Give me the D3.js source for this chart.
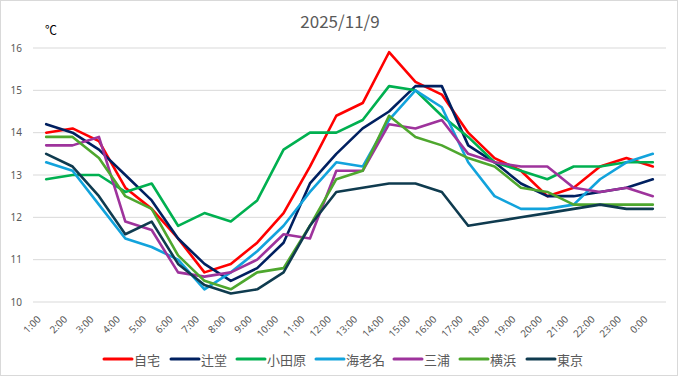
<!DOCTYPE html>
<html><head><meta charset="utf-8">
<script src="https://cdn.jsdelivr.net/npm/d3@7"></script>
<style>
html,body{margin:0;padding:0;background:#fff;}
svg{display:block;}
</style></head>
<body><svg id="c" width="681" height="379"></svg>
<script>
const hours = ["1:00","2:00","3:00","4:00","5:00","6:00","7:00","8:00","9:00","10:00","11:00","12:00","13:00","14:00","15:00","16:00","17:00","18:00","19:00","20:00","21:00","22:00","23:00","0:00"];
const seriesNames = ["自宅","辻堂","小田原","海老名","三浦","横浜","東京"];
const jitaku   = [14.0,14.1,13.8,12.7,12.2,11.5,10.7,10.9,11.4,12.1,13.2,14.4,14.7,15.9,15.2,14.9,14.0,13.4,13.1,12.5,12.7,13.2,13.4,13.2];
const tsujido  = [14.2,14.0,13.6,13.0,12.4,11.5,10.9,10.5,10.8,11.4,12.8,13.5,14.1,14.5,15.1,15.1,13.7,13.3,12.8,12.5,12.5,12.6,12.7,12.9];
const odawara  = [12.9,13.0,13.0,12.6,12.8,11.8,12.1,11.9,12.4,13.6,14.0,14.0,14.3,15.1,15.0,14.4,13.9,13.3,13.1,12.9,13.2,13.2,13.3,13.3];
const ebina    = [13.3,13.1,12.3,11.5,11.3,11.0,10.3,10.7,11.2,11.8,12.6,13.3,13.2,14.3,15.0,14.6,13.3,12.5,12.2,12.2,12.3,12.9,13.3,13.5];
const miura    = [13.7,13.7,13.9,11.9,11.7,10.7,10.6,10.7,11.0,11.6,11.5,13.1,13.1,14.2,14.1,14.3,13.5,13.3,13.2,13.2,12.7,12.6,12.7,12.5];
const yokohama = [13.9,13.9,13.4,12.5,12.2,11.1,10.5,10.3,10.7,10.8,11.8,12.9,13.1,14.4,13.9,13.7,13.4,13.2,12.7,12.6,12.3,12.3,12.3,12.3];
const tokyo    = [13.5,13.2,12.5,11.6,11.9,10.9,10.4,10.2,10.3,10.7,11.8,12.6,12.7,12.8,12.8,12.6,11.8,11.9,12.0,12.1,12.2,12.3,12.2,12.2];
const yTicks = [10,11,12,13,14,15,16];
const colors = ["#FF0000","#002060","#00B050","#12A3DC","#9E339C","#4EA72E","#0F3B4F"];
const allValues = [jitaku,tsujido,odawara,ebina,miura,yokohama,tokyo];

const svg = d3.select("#c");
const W = 681, H = 379;
svg.append("rect").attr("x",0.5).attr("y",0.5).attr("width",W-4).attr("height",H-4)
  .attr("fill","#fff").attr("stroke","#d9d9d9");

const x = d3.scalePoint().domain(hours).range([33,666]).padding(0.5);
const y = d3.scaleLinear().domain([10,16]).range([302,48]);

// gridlines
svg.append("g").selectAll("line").data(yTicks).join("line")
  .attr("x1",33).attr("x2",666)
  .attr("y1",d=>y(d)).attr("y2",d=>y(d))
  .attr("stroke","#d9d9d9").attr("stroke-width",1);

// y axis labels
const yAxis = d3.axisLeft(y).tickValues(yTicks).tickSize(0).tickPadding(0).tickFormat(d3.format("d"));
const gy = svg.append("g").attr("transform","translate(22,0)").call(yAxis);
gy.select(".domain").remove();
gy.selectAll("text").attr("font-family","'Noto Sans', 'Liberation Sans', sans-serif")
  .attr("font-size",10).attr("fill","#595959");

// x axis labels
const xAxis = d3.axisBottom(x).tickSize(0).tickPadding(0);
const gx = svg.append("g").attr("transform","translate(0,302)").call(xAxis);
gx.select(".domain").remove();
gx.selectAll("text")
  .attr("font-family","'Noto Sans', 'Liberation Sans', sans-serif")
  .attr("font-size",10).attr("fill","#595959")
  .attr("text-anchor","end")
  .attr("dy",null).attr("y",0)
  .attr("dominant-baseline","middle")
  .attr("transform","translate(-7,16) rotate(-45)");

// lines
const line = d3.line().x((d,i)=>x(hours[i])).y(d=>y(d));
svg.append("g").selectAll("path").data(allValues).join("path")
  .attr("d",line).attr("fill","none")
  .attr("stroke",(d,i)=>colors[i]).attr("stroke-width",2.6)
  .attr("stroke-linejoin","round").attr("stroke-linecap","round");

// title
svg.append("text").attr("x",340).attr("y",28).attr("text-anchor","middle")
  .attr("font-family","'Noto Sans CJK JP', 'Noto Sans', sans-serif")
  .attr("font-size",17).attr("fill","#595959").text("2025/11/9");

// unit
svg.append("text").attr("x",45).attr("y",35)
  .attr("font-family","'Noto Sans CJK JP', sans-serif")
  .attr("font-size",12).attr("fill","#000").text("℃");

// legend
const legX = [104,171,237,316,394,460,527];
const leg = svg.append("g").selectAll("g").data(seriesNames).join("g")
  .attr("transform",(d,i)=>`translate(${legX[i]},359)`);
leg.append("line").attr("x1",0).attr("x2",28).attr("y1",0).attr("y2",0)
  .attr("stroke",(d,i)=>colors[i]).attr("stroke-width",3).attr("stroke-linecap","round");
leg.append("text").attr("x",30).attr("y",0).attr("dominant-baseline","central")
  .attr("font-family","'Noto Sans CJK JP', sans-serif")
  .attr("font-size",13).attr("fill","#595959").text(d=>d);
</script></body></html>
